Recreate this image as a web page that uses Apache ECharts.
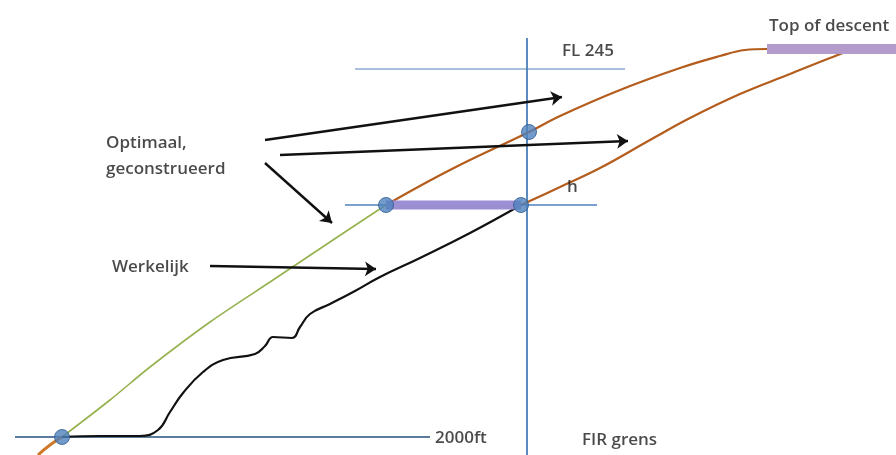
<!DOCTYPE html>
<html>
<head>
    <meta charset="utf-8">
    <title>descent</title>
    <script src="https://cdn.jsdelivr.net/npm/echarts@6/dist/echarts.min.js"></script>
</head>
<body style="margin:0;background:#fff">
    <div id="main" style="width:896px;height:455px;"></div>
    <script type="text/javascript">
        // all points are [x, y] in the drawing's own units (y counted downward)
        var optimalGreen = [[62, 437], [110, 400], [150, 367], [210, 322], [273, 280], [303, 260], [345, 232], [386, 205]];
        var optimalBrown = [[386, 205], [450, 170], [529, 132], [560, 116], [620, 90], [680, 68], [720, 56], [745, 50], [767, 49]];
        var optimalTail = [[38, 455], [50, 445], [62, 437]];
        var shifted = [[521, 205], [560, 187], [600, 168], [650, 140], [690, 118], [740, 94], [790, 74], [830, 58], [852, 50], [862, 49]];
        var actual = [[62, 437], [100, 436], [140, 436], [158, 430], [170, 412], [183, 393], [203, 372], [223, 360], [255, 354], [265, 346], [273, 337], [292, 338], [300, 327], [310, 314], [330, 304], [355, 291], [380, 277], [420, 258], [470, 233], [521, 205]];
        var lineLow = [[15, 437], [430, 437]];
        var lineFL = [[355, 69], [625, 69]];
        var lineH = [[345, 205], [597, 205]];
        var lineFIR = [[527, 38], [527, 455]];
        var barTop = [[767, 49], [896, 49]];
        var barH = [[386, 205], [521, 205]];
        var dots = [[62, 437], [386, 205], [521, 205], [529, 132]];
        var arrows = [
            [[265, 140], [562, 97]],
            [[280, 155], [628, 141]],
            [[265, 163], [332, 223]],
            [[210, 266], [376, 269]]
        ];
        var labels = [
            ['Optimaal,', 106, 143],
            ['geconstrueerd', 106, 169],
            ['Werkelijk', 112, 267],
            ['FL 245', 562, 51],
            ['h', 567, 187],
            ['2000ft', 435, 438],
            ['FIR grens', 582, 440],
            ['Top of descent', 769, 26]
        ];

        var dom = document.getElementById('main');
        var myChart = echarts.init(dom);

        function seg(data, color, width, z) {
            return {
                type: 'line', data: data, symbol: 'none', silent: true, z: z || 2,
                lineStyle: { color: color, width: width }
            };
        }
        function curve(data, color, width, smooth) {
            return {
                type: 'line', data: data, symbol: 'none', smooth: smooth, silent: true, z: 3,
                lineStyle: { color: color, width: width }
            };
        }

        var option = {
            animation: false,
            backgroundColor: '#fff',
            grid: { left: 0, right: 0, top: 0, bottom: 0 },
            xAxis: { type: 'value', min: 0, max: 896, show: false },
            yAxis: { type: 'value', min: 0, max: 455, inverse: true, show: false },
            series: [
                seg(lineLow, '#5b7b9c', 2.2),
                seg(lineFL, '#4f81bd', 1.2),
                seg(lineH, '#4f81bd', 1.4),
                seg(lineFIR, '#4a7fb8', 1.8),
                seg(barTop, '#b39ccb', 10, 4),
                seg(barH, '#9c8fd4', 9, 4),
                curve(optimalTail, '#d0782a', 3, true),
                curve(optimalGreen, '#96b24e', 1.6, 0.3),
                curve(optimalBrown, '#b45c1c', 2.2, 0.4),
                curve(shifted, '#b45c1c', 2.2, 0.4),
                curve(actual, '#111', 2.2, 0.45),
                {
                    type: 'lines', coordinateSystem: 'cartesian2d', silent: true, z: 5,
                    symbol: ['none', 'arrow'], symbolSize: [9, 11],
                    lineStyle: { color: '#111', width: 2.4, opacity: 1, curveness: 0 },
                    data: arrows.map(function (a) { return { coords: a }; })
                },
                {
                    type: 'scatter', data: dots, symbolSize: 15, silent: true, z: 6,
                    itemStyle: { color: '#4f81bd', borderColor: '#2f5a8e', borderWidth: 1 }
                },
                {
                    type: 'scatter', symbolSize: 0, silent: true, z: 7,
                    data: labels.map(function (l) { return { name: l[0], value: [l[1], l[2]] }; }),
                    label: {
                        show: true, position: 'right', distance: 0,
                        formatter: '{b}', color: '#1c1c1c', fontSize: 17, fontWeight: 600,
                        fontFamily: 'Open Sans'
                    }
                }
            ]
        };
        myChart.setOption(option);
    </script>
</body>
</html>
